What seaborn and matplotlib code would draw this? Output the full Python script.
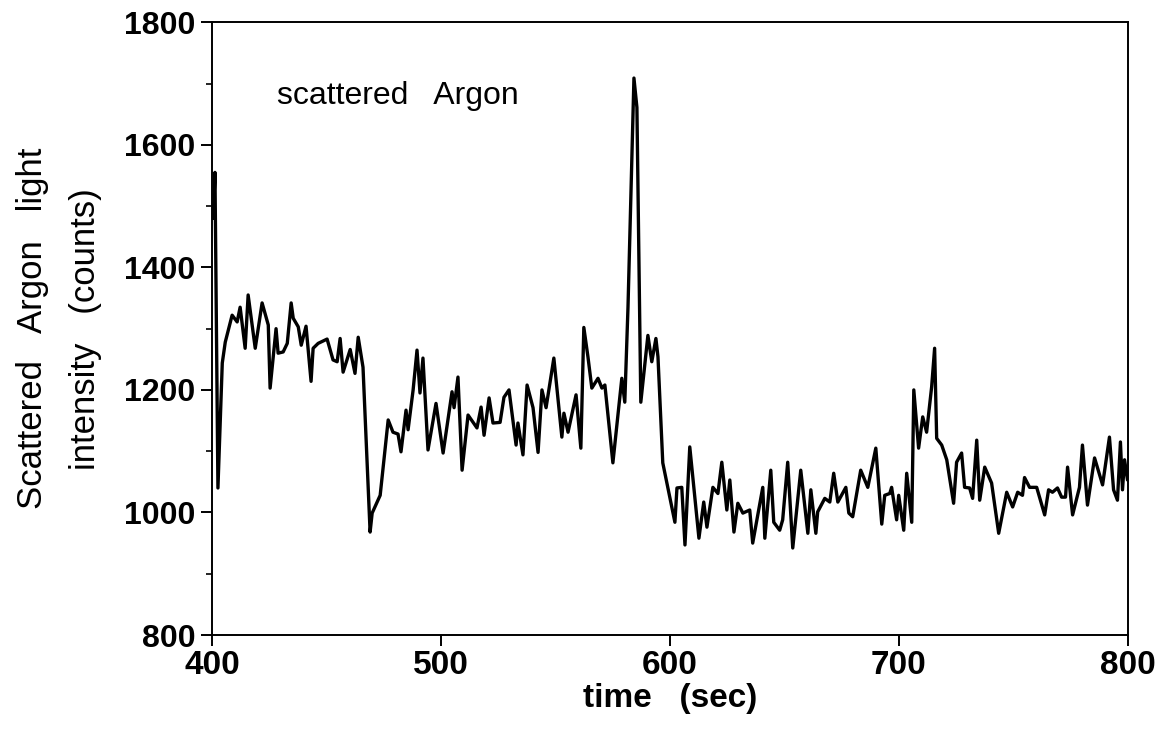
import numpy as np
import pandas as pd
import matplotlib
matplotlib.use("Agg")
import matplotlib.pyplot as plt
import seaborn as sns

# ---- data ----
time_sec = [400.5, 401.2, 402.5, 404.4, 405.7, 408.7, 410.9, 412.2, 414.4, 415.7,
            418.8, 421.8, 424.5, 425.3, 427.9, 428.8, 431.0, 432.8, 434.5, 435.4,
            437.6, 438.9, 441.0, 443.2, 444.1, 446.3, 450.2, 452.8, 454.6, 455.9,
            457.2, 460.3, 462.4, 463.8, 465.9, 469.0, 469.9, 473.4, 476.9, 479.0,
            481.2, 482.5, 484.7, 485.6, 487.8, 489.5, 490.8, 492.1, 494.3, 497.8,
            500.9, 504.8, 505.7, 507.4, 509.2, 511.8, 515.7, 517.5, 518.8, 521.0,
            522.7, 525.8, 527.5, 529.7, 532.8, 533.6, 535.8, 537.6, 540.2, 542.4,
            544.1, 545.9, 549.3, 552.8, 553.7, 555.5, 559.0, 561.1, 562.4, 564.2,
            565.9, 568.6, 570.3, 571.6, 575.1, 579.0, 580.3, 581.7, 584.3, 585.6,
            587.3, 590.4, 592.1, 593.9, 594.8, 596.9, 602.2, 603.1, 605.2, 606.6,
            608.7, 612.7, 614.8, 616.2, 618.8, 621.0, 622.7, 624.9, 626.2, 628.0,
            629.7, 631.9, 634.9, 636.2, 640.6, 641.5, 644.1, 645.4, 648.0, 649.3,
            651.5, 653.7, 657.2, 660.3, 661.6, 663.8, 664.6, 667.7, 669.9, 671.6,
            673.4, 676.9, 678.2, 679.9, 683.4, 686.5, 690.0, 692.6, 693.9, 696.1,
            696.9, 699.1, 700.0, 702.2, 703.5, 705.7, 706.6, 708.7, 710.5, 712.2,
            714.4, 715.7, 716.6, 718.8, 721.0, 724.0, 725.3, 727.5, 728.8, 731.0,
            732.3, 734.1, 735.4, 737.6, 740.6, 743.7, 747.2, 749.8, 752.0, 754.1,
            755.0, 757.2, 760.3, 763.8, 765.5, 767.2, 769.4, 771.2, 772.9, 773.8,
            776.0, 779.0, 780.3, 782.5, 785.6, 789.1, 792.1, 793.9, 795.6, 796.9,
            797.8, 798.7, 800.0]

intensity = [1480, 1555, 1040, 1244, 1278, 1322, 1311, 1335, 1268, 1355,
             1268, 1342, 1306, 1203, 1300, 1260, 1262, 1276, 1342, 1317,
             1303, 1273, 1304, 1214, 1268, 1276, 1283, 1249, 1246, 1284,
             1229, 1266, 1227, 1286, 1237, 968, 999, 1028, 1151, 1131,
             1128, 1099, 1167, 1135, 1200, 1265, 1195, 1252, 1102, 1178,
             1097, 1197, 1171, 1221, 1069, 1159, 1138, 1172, 1126, 1187,
             1146, 1147, 1188, 1200, 1110, 1146, 1094, 1208, 1171, 1098,
             1200, 1171, 1252, 1123, 1162, 1131, 1192, 1105, 1302, 1254,
             1203, 1219, 1203, 1208, 1081, 1219, 1180, 1335, 1709, 1661,
             1180, 1289, 1246, 1284, 1254, 1081, 984, 1040, 1041, 947,
             1107, 958, 1017, 976, 1041, 1031, 1082, 1004, 1053, 968,
             1015, 999, 1004, 950, 1041, 958, 1069, 984, 971, 988,
             1082, 942, 1069, 966, 1037, 966, 1001, 1023, 1017, 1064,
             1017, 1041, 999, 993, 1069, 1041, 1105, 981, 1028, 1031,
             1041, 988, 1028, 971, 1064, 984, 1200, 1105, 1156, 1131,
             1205, 1268, 1121, 1110, 1086, 1015, 1082, 1097, 1041, 1040,
             1023, 1118, 1020, 1074, 1048, 966, 1033, 1009, 1033, 1028,
             1057, 1041, 1041, 996, 1037, 1033, 1040, 1025, 1025, 1074,
             996, 1041, 1110, 1012, 1089, 1045, 1123, 1037, 1020, 1115,
             1037, 1086, 1053]

y_ticks = [800, 1000, 1200, 1400, 1600, 1800]
x_ticks = [400, 500, 600, 700, 800]
x_label = "time   (sec)"
y_label = "Scattered   Argon   light\nintensity   (counts)"
annotation = "scattered   Argon"

df = pd.DataFrame({"t": time_sec, "v": intensity})

sns.set_theme(style="ticks")
plt.rcParams["font.family"] = ["Liberation Sans", "DejaVu Sans"]
plt.rcParams["text.color"] = "black"
plt.rcParams["axes.labelcolor"] = "black"
plt.rcParams["xtick.color"] = "black"
plt.rcParams["ytick.color"] = "black"

fig = plt.figure(figsize=(11.66, 7.44), dpi=100)
ax = fig.add_axes([0.182, 0.1465, 0.785, 0.8235])

sns.lineplot(data=df, x="t", y="v", ax=ax, color="black", linewidth=2.4,
             estimator=None, sort=False)

ax.set_xlim(400, 800)
ax.set_ylim(800, 1800)
ax.set_xticks(x_ticks)
ax.set_yticks(y_ticks)
ax.set_yticks(np.arange(900, 1800, 200), minor=True)
ax.set_xticklabels([str(v) for v in x_ticks], fontsize=24, fontweight="bold")
ax.set_yticklabels([str(v) for v in y_ticks], fontsize=23, fontweight="bold")

ax.tick_params(axis="both", which="major", direction="out", length=8, width=1.4,
               color="black")
ax.tick_params(axis="y", which="minor", direction="out", length=4, width=1.2,
               color="black")
ax.tick_params(axis="x", pad=3)
ax.tick_params(axis="y", pad=4)

for side in ["left", "bottom", "top", "right"]:
    ax.spines[side].set_visible(True)
    ax.spines[side].set_color("black")
    ax.spines[side].set_linewidth(1.4)

ax.set_xlabel(x_label, fontsize=24, fontweight="bold", labelpad=1)
ax.set_ylabel(y_label, fontsize=25, labelpad=16, linespacing=1.75)

ax.text(428.5, 1680, annotation, fontsize=23, ha="left", va="center",
        color="black")

fig.savefig("out.png", dpi=100, facecolor="white")
